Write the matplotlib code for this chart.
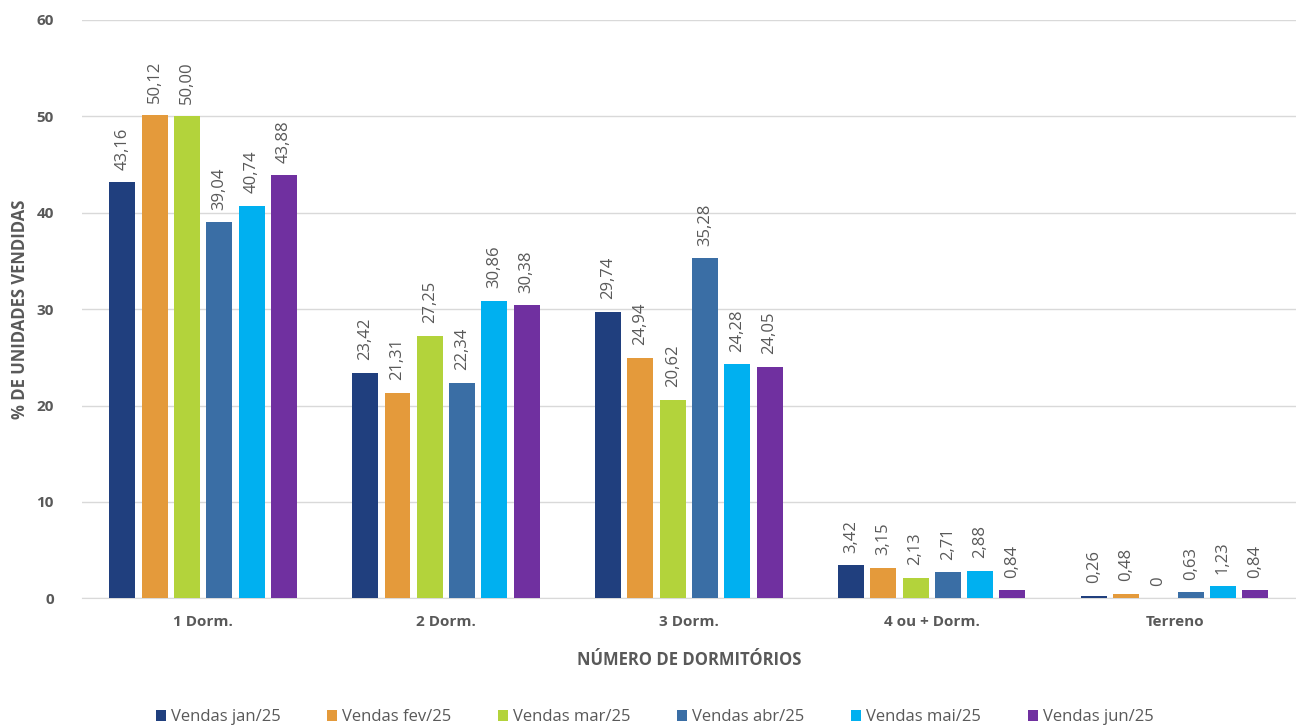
import matplotlib.pyplot as plt
import numpy as np

categorias = ["1 Dorm.", "2 Dorm.", "3 Dorm.", "4 ou + Dorm.", "Terreno"]
series = ["Vendas jan/25", "Vendas fev/25", "Vendas mar/25", "Vendas abr/25", "Vendas mai/25", "Vendas jun/25"]
jan = [43.16, 23.42, 29.74, 3.42, 0.26]
fev = [50.12, 21.31, 24.94, 3.15, 0.48]
mar = [50.00, 27.25, 20.62, 2.13, 0]
abr = [39.04, 22.34, 35.28, 2.71, 0.63]
mai = [40.74, 30.86, 24.28, 2.88, 1.23]
jun = [43.88, 30.38, 24.05, 0.84, 0.84]
valores = [jan, fev, mar, abr, mai, jun]
cores = ["#203F7E", "#E49A3B", "#B3D33B", "#3A6EA5", "#00B0F0", "#7030A0"]

plt.rcParams['font.family'] = ['Open Sans', 'DejaVu Sans']
cinza = "#595959"

fig = plt.figure(figsize=(12.96, 7.27), dpi=100)
ax = fig.add_axes([0.063, 0.177, 0.937, 0.7955])

x = np.arange(len(categorias))
passo = 0.133
largura = 0.107
for i, (nome, vals, cor) in enumerate(zip(series, valores, cores)):
    pos = x + (i - 2.5) * passo
    ax.bar(pos, vals, width=largura, color=cor, label=nome, zorder=3)
    for px, v in zip(pos, vals):
        txt = "0" if v == 0 else f"{v:.2f}".replace(".", ",")
        ax.annotate(txt, (px, v), xytext=(0, 9), textcoords="offset points",
                    rotation=90, ha="center", va="bottom", fontsize=12,
                    color=cinza)

ax.set_xlim(-0.5, 4.5)
ax.set_ylim(0, 60)
ax.set_yticks(range(0, 61, 10))
ax.set_xticks(x)
ax.set_xticklabels(categorias, fontweight="bold")
for t in ax.get_yticklabels():
    t.set_fontweight("bold")
ax.tick_params(axis="both", length=0, colors=cinza, labelsize=11)
ax.tick_params(axis="x", pad=12)
ax.tick_params(axis="y", pad=20)
ax.grid(axis="y", color="#D9D9D9", linewidth=1, zorder=0)
for s in ["top", "right", "left"]:
    ax.spines[s].set_visible(False)
ax.spines["bottom"].set_color("#D9D9D9")

ax.set_ylabel("% DE UNIDADES VENDIDAS", fontsize=12, fontweight="bold", color=cinza)
ax.yaxis.set_label_coords(-0.043, 0.5)
ax.set_xlabel("NÚMERO DE DORMITÓRIOS", fontsize=12, fontweight="bold", color=cinza, labelpad=16)

fig.legend(loc="lower center", bbox_to_anchor=(0.505, -0.018), ncol=6, frameon=False,
           fontsize=12, handlelength=0.6, handleheight=0.6, handletextpad=0.3,
           columnspacing=2.8, labelcolor=cinza)

fig.savefig("out.png", dpi=100)
